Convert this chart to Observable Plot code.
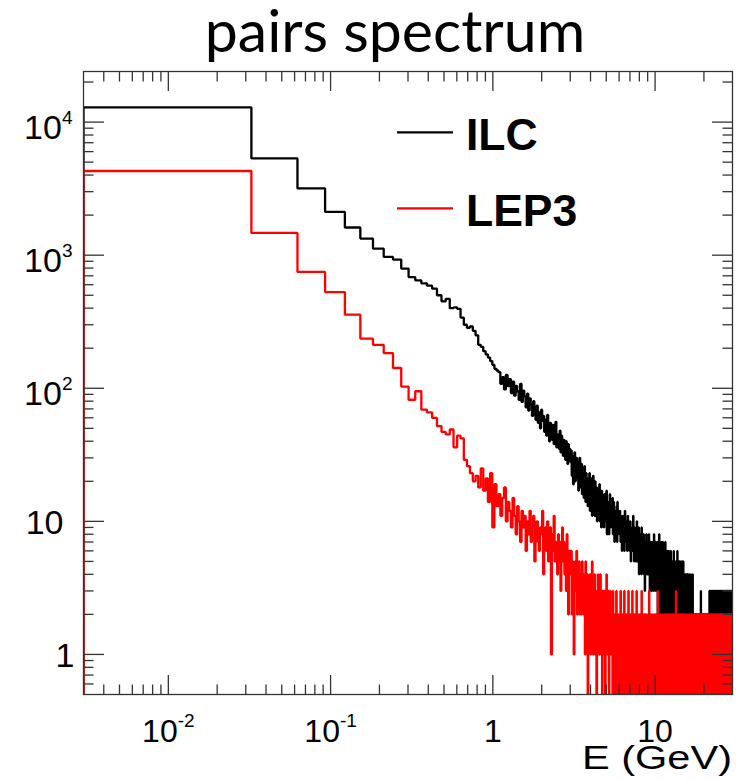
<!DOCTYPE html>
<html>
<head>
<meta charset="utf-8">
<script src="https://cdn.jsdelivr.net/npm/d3@7"></script>
<script src="https://cdn.jsdelivr.net/npm/@observablehq/plot@0.6"></script>
<style>
  html, body { margin: 0; padding: 0; background: #ffffff; }
  #wrap { width: 741px; height: 780px; overflow: hidden; }
  #title { box-sizing: border-box; width: 741px; height: 70px; padding-left: 49px;
           text-align: center; font-family: Lato, 'Open Sans', sans-serif; font-size: 59px;
           line-height: 59px; padding-top: 0px; color: #000; white-space: nowrap; }
  #chart { width: 741px; height: 710px; }
</style>
</head>
<body>
<div id="wrap">
  <div id="title"></div>
  <div id="chart"></div>
</div>
<script>
// ---------------- DATA ----------------
// Histogram: 1000 bins of 0.03 GeV width (counts per bin)
const binWidth = 0.03;
const firstEdge = 0.0025;
const seriesNames = ["ILC", "LEP3"];
const seriesColors = ["#000000", "#ff0000"];

const ilcCountsLow = [
  12900, 5330, 3175, 2115, 1614, 1334, 1122, 970, 927, 793, 685, 647,
  615, 590, 560, 500, 450, 470, 400, 405, 395, 340, 300, 285, 292, 270, 250, 212, 205, 190, 180, 170, 160, 150, 140, 136,
  132, 108, 121, 98, 126, 104, 117, 92,
  112, 88, 104, 95, 82, 108, 79, 96,
  87, 72, 91, 68, 84, 75, 62, 80,
  70, 58, 74, 55, 66, 50, 69, 57,
  62, 47, 58, 44, 63, 51, 40, 55,
  49, 41, 53, 38, 47, 56, 36, 45,
  42, 35, 48, 33, 44, 38, 31, 41,
  37, 29, 40, 33, 27, 38, 30, 35
];
const ilcCountsMid = [
  28,34,22,31,19,27,33,20,25,30,
  21,28,17,26,30,18,24,27,16,23,
  22,15,26,18,14,23,19,21,13,20,
  18,23,12,19,15,21,11,17,22,14,
  16,11,20,14,13,18,10,17,12,15,
  13,19,10,16,12,9,17,14,11,15,
  13,9,16,11,14,10,12,17,8,12,
  14,10,12,8,13,16,9,12,10,14,
  9,13,15,8,11,14,10,7,12,11,
  8,12,10,13,7,14,9,8,12,10,
  10,8,12,9,7,11,9,10,6,9,
  8,11,7,9,10,6,8,12,7,9,
  9,7,10,8,6,9,11,7,8,10,
  7,9,6,8,10,7,5,9,8,7,
  8,6,9,7,11,6,8,5,7,9,
  6,8,7,5,9,7,6,10,5,8,
  7,5,8,6,9,4,7,6,8,5,
  6,8,5,7,4,9,6,5,7,6,
  5,7,6,8,4,6,5,7,3,6,
  7,5,6,4,8,5,6,7,4,6,
  5,6,4,7,5,8,4,6,5,3,
  6,5,7,4,6,5,3,7,5,6,
  4,6,5,7,3,5,6,4,8,5,
  5,4,6,3,5,7,4,5,6,4
];
const ilcCountsHigh = [
  5,3,6,4,7,5,2,6,4,5, 3,6,5,8,4,3,5,6,2,4, 6,4,5,3,7,4,5,2,6,3,
  4,5,7,3,4,6,2,5,4,3, 6,4,3,5,2,7,4,5,3,4, 5,2,4,6,3,5,4,2,6,3,
  4,3,5,2,4,6,3,4,2,5, 3,4,1,5,3,4,6,2,3,4, 5,3,2,4,3,5,1,4,3,2,
  4,5,3,2,6,3,4,2,3,5, 2,4,3,1,4,3,5,2,4,3, 3,5,2,4,3,2,4,6,3,2,
  4,2,3,5,1,3,4,2,5,3, 2,4,3,2,5,3,1,4,3,4, 3,2,5,3,2,4,3,1,4,2,
  5,3,2,4,3,2,3,5,2,3,
  3,2,4,1,3,2,4,3,2,3, 1,4,2,3,2,4,3,1,2,3, 4,2,3,1,3,2,4,2,3,1,
  2,3,4,2,1,3,2,3,1,2, 3,2,1,4,2,3,2,1,3,2, 2,3,1,2,4,2,1,3,2,3,
  1,2,3,2,1,3,2,2,4,1,
  2,1,2,0,1,2,1,2,2,1, 0,2,1,2,1,1,2,0,2,1, 2,1,2,1,2,0,1,2,1,2,
  1,2,0,2,1,2,1,1,2,0, 2,1,2,1,0,2,1,2,1,2, 1,0,2,1,2,2,1,0,1,2,
  2,1,1,2,0,2,1,2,3,1, 1,2,0,1,2,1,2,1,0,2, 2,1,2,0,1,2,1,2,1,1,
  0,2,1,2,1,2,0,1,2,1, 2,1,2,1,0,1,2,2,1,2, 1,2,0,2,1,2,1,0,2,1,
  2,1,1,2,2,1,2,0,1,2, 1,2,1,0,2,1,2,1,2,0, 1,2,2,1,0,2,1,2,1,2,
  2,3,1,2,2,0,3,2,1,2, 3,2,1,2,0,2,3,1,2,2, 1,3,2,2,1,2,0,3,2,1,
  2,2,3,1,2,1,2,3,0,2, 3,1,2,2,1,3,2,0,2,1, 2,3,2,1,2,2,1,3,2,0,
  1,2,3,2,2,1,0,2,3,2, 2,1,2,3,1,2,2,0,3,1, 2,2,1,3,2,1,2,2,0,2,
  3,2,1,2,2,3,1,0,2,2, 1,3,2,2,1,2,3,0,2,1, 2,2,3,1,2,0,2,3,2,1,
  3,2,2,1,0,2,3,1,2,2, 2,1,3,2,2,0,1,3,2,2, 1,2,2,3,1,2,0,2,3,1,
  2,3,1,2,2,1,3,0,2,2, 3,2,0,2,1,3,2,2,1,2, 2,1,3,2,0,2,2,3,1,2,
  1,3,2,2,1,0,2,3,2,1, 2,2,1,3,2,2,0,1,3,2, 3,1,2,2,0,3,2,1,2,2,
  2,3,1,0,2,2,3,1,2,1, 1,2,3,2,2,1,0,3,2,2, 2,2,1,3,0,2,2,1,3,2,
  3,1,2,2,1,2,3,0,2,2, 2,0,3,2,1,2,2,3,1,2, 1,2,2,3,2,0,1,2,3,2,
  2,3,1,2,0,2,2,1,3,2
];

const lep3CountsLow = [
  4290, 1469, 748, 528, 357, 236, 212, 184, 142, 103, 82, 95,
  69, 66, 60, 52, 47, 45, 49, 36, 44, 42, 29, 26, 23, 20,
  22, 18, 25, 17, 21, 14, 23, 9,
  19, 13, 16, 11, 15, 18, 10, 14,
  12, 9, 15, 11, 8, 13, 10, 7,
  12, 9, 11, 6, 10, 8, 12, 7,
  9, 11, 5, 8, 10, 7, 6, 9,
  8, 12, 4, 7, 9, 6, 10, 5,
  7, 9, 1, 8, 6, 11, 5, 7,
  6, 4, 8, 5, 7, 3, 6, 9,
  5, 7, 4, 6, 3, 8, 5, 2, 6, 4
];
const lep3CountsMid = [
  4,6,2,5,3,1,4,5,3,6,
  2,4,3,5,2,3,4,2,5,3,
  4,2,3,1,5,3,2,4,0,3,
  3,2,4,1,3,2,5,2,1,3,
  2,4,1,3,2,0,3,2,4,1,
  3,1,2,4,2,1,3,0,2,3,
  2,1,3,2,0,2,1,4,2,1,
  2,3,1,0,2,1,3,2,1,2,
  1,2,0,3,1,2,1,2,0,1,
  2,1,3,1,0,2,1,2,1,0,
  1,2,0,1,3,1,2,1,0,2,
  1,1,2,0,1,3,1,2,1,0,
  2,1,1,2,1,0,2,1,3,1,
  0,1,2,1,1,2,0,1,2,1,
  1,3,1,0,2,1,1,2,1,0,
  2,1,0,1,2,1,3,1,0,1,
  1,2,1,0,1,2,1,1,0,2,
  1,0,2,1,1,3,0,1,2,1,
  1,2,0,1,1,2,1,0,2,1,
  0,1,2,1,0,1,2,1,1,0
];
const lep3CountsHigh = [
  1,0,2,1,1,0,3,1,0,2, 1,1,0,2,1,0,1,1,2,0, 0,1,2,1,0,1,1,0,2,1,
  1,0,1,1,2,0,1,2,1,0, 2,1,0,1,1,0,1,3,0,1, 1,2,1,0,1,1,0,2,1,1,
  0,1,1,2,0,1,0,1,2,1, 1,0,2,1,1,0,1,1,0,2, 1,1,0,1,2,1,0,1,1,0,
  2,0,1,1,0,2,1,0,1,1, 0,1,2,1,0,1,1,2,0,1, 1,1,0,1,2,0,1,1,0,1,
  2,1,1,0,1,2,0,1,1,0, 1,0,2,1,1,0,1,2,1,0, 0,1,1,0,2,1,0,1,3,1,
  1,2,0,1,1,0,1,1,2,0, 1,0,1,2,0,1,1,0,1,2, 0,1,1,0,1,2,1,0,1,1,
  2,1,0,1,1,0,2,1,0,1, 1,1,2,0,1,1,0,1,2,1, 0,2,1,1,0,1,1,0,1,2,
  1,0,1,2,1,0,1,1,0,1, 1,1,0,1,0,2,1,1,2,0, 0,1,2,1,1,0,1,0,1,1,
  2,0,1,1,2,1,0,1,1,0, 1,1,0,2,1,0,1,2,0,1, 0,1,1,1,0,2,1,0,1,1,
  1,2,0,1,1,0,1,1,2,1, 0,1,1,0,2,1,1,0,1,0, 1,1,2,1,0,1,0,2,1,1,
  2,0,1,0,1,1,2,1,0,1, 1,1,0,2,1,0,1,1,0,2, 0,1,1,1,0,2,1,0,1,1,
  1,0,2,1,1,0,1,2,1,0, 1,1,0,1,2,1,0,1,0,1, 2,1,1,0,1,0,2,1,1,0,
  0,1,2,1,0,1,1,0,2,1, 1,0,1,1,2,0,1,1,0,1, 1,2,0,1,0,1,1,2,1,0,
  0,1,1,2,1,0,1,0,1,2, 1,1,0,1,1,2,0,1,1,0, 2,0,1,1,0,1,2,1,0,1,
  1,1,2,0,1,0,1,1,2,0, 0,1,1,0,2,1,1,0,1,1, 1,2,0,1,1,0,1,2,0,1,
  1,0,1,2,1,1,0,1,1,0, 0,1,2,1,0,1,1,0,2,1, 1,1,0,1,2,0,1,1,0,2,
  2,0,1,1,0,1,1,2,1,0, 1,1,0,2,1,1,0,1,0,1, 0,2,1,1,0,1,2,0,1,1,
  1,0,1,0,2,1,1,0,1,2, 1,1,2,1,0,1,0,1,1,0, 2,0,1,1,1,0,2,1,0,1,
  0,1,1,2,0,1,1,0,1,1, 1,2,0,1,1,0,1,2,1,0, 1,0,1,1,2,1,0,1,0,2,
  0,1,2,0,1,1,1,0,2,1, 1,1,0,1,0,2,1,1,0,1, 2,1,1,0,1,0,1,2,1,0,
  0,1,0,2,1,1,0,1,1,2, 1,0,1,1,0,2,1,0,1,1, 1,2,1,0,1,1,0,1,2,0,
  0,1,1,2,0,1,1,0,1,1, 2,0,1,1,1,0,2,1,0,1, 1,1,0,1,2,1,0,1,1,0,
  0,2,1,0,1,1,2,0,1,1, 1,0,1,2,1,0,1,1,0,2, 1,1,0,1,0,1,2,1,1,0,
  2,1,1,0,1,2,0,1,1,1
];

// Axis ticks and texts
const xMajorTicks = [0.01, 0.1, 1, 10];
const xMinorTicks = [0.004,0.005,0.006,0.007,0.008,0.009, 0.02,0.03,0.04,0.05,0.06,0.07,0.08,0.09,
                     0.2,0.3,0.4,0.5,0.6,0.7,0.8,0.9, 2,3,4,5,6,7,8,9, 20];
const yMajorTicks = [1, 10, 100, 1000, 10000];
const yMinorTicks = [0.6,0.7,0.8,0.9, 2,3,4,5,6,7,8,9, 20,30,40,50,60,70,80,90,
                     200,300,400,500,600,700,800,900, 2000,3000,4000,5000,6000,7000,8000,9000, 20000];
const xDomain = [0.003, 30];
const yDomain = [0.5, 24000];
const titleText = "pairs spectrum";
const xLabelText = "E (GeV)";

// ---------------- BUILD ----------------
document.getElementById("title").textContent = titleText;

const ilcCounts = ilcCountsLow.concat(ilcCountsMid, ilcCountsHigh);
const lep3Counts = lep3CountsLow.concat(lep3CountsMid, lep3CountsHigh);
const emptyLevel = 0.2; // empty bins drop below the frame (clipped)

function histPath(counts) {
  const edge = i => Math.min(Math.max(firstEdge + i * binWidth, xDomain[0]), xDomain[1]);
  const pts = [{E: edge(0), n: emptyLevel}];
  counts.forEach((c, i) => {
    const v = c > 0 ? c : emptyLevel;
    pts.push({E: edge(i), n: v}, {E: edge(i + 1), n: v});
  });
  pts.push({E: edge(counts.length), n: emptyLevel});
  return pts;
}

const supFmt = v => {
  const e = Math.round(Math.log10(v));
  if (e === 0) return "1";
  if (e === 1) return "10";
  return "10^" + e;
};

const axisColor = "#333333";
const font = "'Liberation Sans', Arial, Helvetica, sans-serif";
const lineW = 2.3;
const top0 = 70; // height of the title block above the svg

const plot = Plot.plot({
  width: 741,
  height: 710,
  marginLeft: 83,
  marginRight: 9,
  marginTop: 1,
  marginBottom: 86,
  x: {type: "log", domain: xDomain},
  y: {type: "log", domain: yDomain},
  style: {fontFamily: font, background: "#ffffff", color: "#000000", overflow: "visible"},
  marks: [
    Plot.line(histPath(ilcCounts), {x: "E", y: "n", stroke: seriesColors[0], strokeWidth: lineW, clip: true, strokeLinejoin: "miter", strokeLinecap: "butt"}),
    Plot.line(histPath(lep3Counts), {x: "E", y: "n", stroke: seriesColors[1], strokeWidth: lineW, clip: true, strokeLinejoin: "miter", strokeLinecap: "butt"}),
    Plot.frame({stroke: axisColor, strokeWidth: 1.3}),
    // bottom / top ticks (inward)
    Plot.axisX({anchor: "bottom", ticks: xMajorTicks, tickSize: -19, fill: "none", stroke: axisColor, strokeWidth: 1.3}),
    Plot.axisX({anchor: "bottom", ticks: xMinorTicks, tickSize: -9.5, fill: "none", stroke: axisColor, strokeWidth: 1.3}),
    Plot.axisX({anchor: "top", ticks: xMajorTicks, tickSize: -19, fill: "none", stroke: axisColor, strokeWidth: 1.3}),
    Plot.axisX({anchor: "top", ticks: xMinorTicks, tickSize: -9.5, fill: "none", stroke: axisColor, strokeWidth: 1.3}),
    // left / right ticks (inward)
    Plot.axisY({anchor: "left", ticks: yMajorTicks, tickSize: -21, fill: "none", stroke: axisColor, strokeWidth: 1.3}),
    Plot.axisY({anchor: "left", ticks: yMinorTicks, tickSize: -10.5, fill: "none", stroke: axisColor, strokeWidth: 1.3}),
    Plot.axisY({anchor: "right", ticks: yMajorTicks, tickSize: -21, fill: "none", stroke: axisColor, strokeWidth: 1.3}),
    Plot.axisY({anchor: "right", ticks: yMinorTicks, tickSize: -10.5, fill: "none", stroke: axisColor, strokeWidth: 1.3}),
    // tick labels
    Plot.axisX({anchor: "bottom", ticks: xMajorTicks, tickSize: 0, tickPadding: 25, tickFormat: supFmt,
                fontSize: 32, fill: "#000", label: null}),
    Plot.axisY({anchor: "left", ticks: yMajorTicks, tickSize: 0, tickPadding: 11, tickFormat: supFmt,
                fontSize: 34, fill: "#000", label: null})
  ]
});

document.getElementById("chart").appendChild(plot);

// superscripts in tick labels (10^n -> 10 with raised exponent)
const svg = d3.select(plot);
svg.selectAll("text").each(function () {
  const s = this.textContent;
  if (s.includes("^")) {
    const [base, exp] = s.split("^");
    this.textContent = base;
    d3.select(this).append("tspan").attr("dy", "-15").attr("font-size", "19").text(exp);
  }
});
// y-axis labels: ROOT-like placement
svg.selectAll("g[aria-label='y-axis tick label'] text").each(function () {
  const s = this.textContent;
  const isSup = this.querySelector("tspan") != null;
  const dx = isSup ? 0 : (s === "10" ? -9 : 2);
  const dy = isSup ? 6 : 2;
  const tr = this.getAttribute("transform") || "";
  this.setAttribute("transform", tr + ` translate(${dx},${dy})`);
});

// x-axis title (bottom right, as in ROOT)
svg.append("text")
  .attr("x", 732).attr("y", 769 - top0)
  .attr("text-anchor", "end")
  .attr("font-family", font).attr("font-size", 33)
  .attr("textLength", 150).attr("lengthAdjust", "spacingAndGlyphs")
  .attr("fill", "#000")
  .text(xLabelText);

// legend
const legend = svg.append("g").attr("aria-label", "legend").attr("text-anchor", "start");
seriesNames.forEach((name, i) => {
  const yy = [132.3, 208.3][i] - top0;
  legend.append("line")
    .attr("x1", 397).attr("x2", 453).attr("y1", yy).attr("y2", yy)
    .attr("stroke", seriesColors[i]).attr("stroke-width", 2.2);
  legend.append("text")
    .attr("x", 466).attr("y", [150, 226][i] - top0)
    .attr("text-anchor", "start")
    .attr("font-family", font).attr("font-weight", "bold").attr("font-size", 44.5)
    .attr("fill", "#000").text(name);
});
</script>
</body>
</html>
